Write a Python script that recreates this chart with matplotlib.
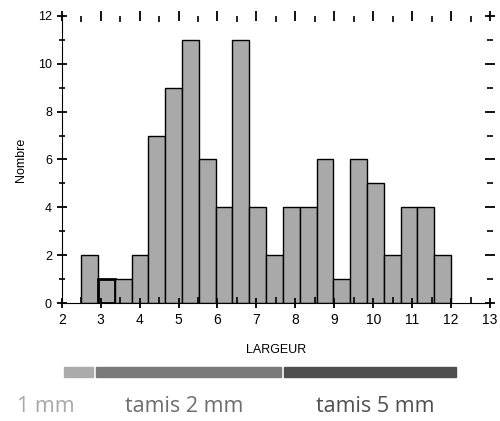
import numpy as np
import matplotlib.pyplot as plt
from matplotlib.patches import Rectangle
from matplotlib.ticker import MultipleLocator

# ----------------------------------------------------
# Data (counts per width class)
# ----------------------------------------------------

counts = [2, 1, 1, 2, 7, 9, 11, 6, 4, 11, 4, 2, 4, 4, 6, 1, 6, 5, 2, 4, 4, 2]
x_start = 2.5
x_end = 12.0

# sieve classes shown under the axis
sieve_labels = ["1 mm", "tamis 2 mm", "tamis 5 mm"]
sieve_from = [2.05, 2.88, 7.70]
sieve_to = [2.80, 7.62, 12.12]
sieve_colors = ["#ababab", "#7a7a7a", "#4f4f4f"]
sieve_text_colors = ["#a8a8a8", "#6e6e6e", "#505050"]
sieve_text_x = [46, 184, 375]

# ----------------------------------------------------
# Figure
# ----------------------------------------------------

fig = plt.figure(figsize=(5, 4.21), dpi=100)
ax = fig.add_axes([0.1234, 0.2796, 0.8566, 0.6831])

edges = np.linspace(x_start, x_end, len(counts) + 1)
widths = np.diff(edges)
lws = [1.0] * len(counts)
lws[1] = 2.0

ax.bar(edges[:-1], counts, width=widths, align="edge",
       color="#a9a9a9", edgecolor="black", linewidth=lws)

ax.set_xlim(2, 13)
ax.set_ylim(0, 12)

ax.spines["top"].set_visible(False)
ax.spines["right"].set_visible(False)

ax.xaxis.set_major_locator(MultipleLocator(1))
ax.xaxis.set_minor_locator(MultipleLocator(0.5))
ax.yaxis.set_major_locator(MultipleLocator(2))
ax.yaxis.set_minor_locator(MultipleLocator(1))

ax.tick_params(axis="x", which="both", bottom=True, top=True,
               direction="inout", labelsize=10)
ax.tick_params(axis="x", which="major", length=7, width=1.3)
ax.tick_params(axis="x", which="minor", length=4, width=1.2)
ax.tick_params(axis="x", which="both", top=True, direction="in")
ax.tick_params(axis="x", which="major", bottom=True, direction="inout")

ax.tick_params(axis="y", which="both", left=True, right=True,
               direction="inout", labelsize=9)
ax.tick_params(axis="y", which="major", length=7, width=1.3)
ax.tick_params(axis="y", which="minor", length=4, width=1.2)

for lab in ax.get_xticklabels() + ax.get_yticklabels():
    lab.set_fontfamily("Liberation Sans")

ax.set_xlabel("LARGEUR", fontsize=9, family="Liberation Sans", labelpad=12)
ax.set_ylabel("Nombre", fontsize=9, family="Liberation Sans", labelpad=8)

# ----------------------------------------------------
# Sieve bars and labels
# ----------------------------------------------------

trans = ax.get_xaxis_transform()
for x0, x1, c in zip(sieve_from, sieve_to, sieve_colors):
    ax.add_patch(Rectangle((x0, -0.256), x1 - x0, 0.034, transform=trans,
                           color=c, clip_on=False))

for lab, xp, c in zip(sieve_labels, sieve_text_x, sieve_text_colors):
    fig.text(xp / 500, 1 - 406 / 421, lab, color=c, fontsize=15.5,
             family="Open Sans", ha="center", va="center")

fig.savefig("out.png", dpi=100)
